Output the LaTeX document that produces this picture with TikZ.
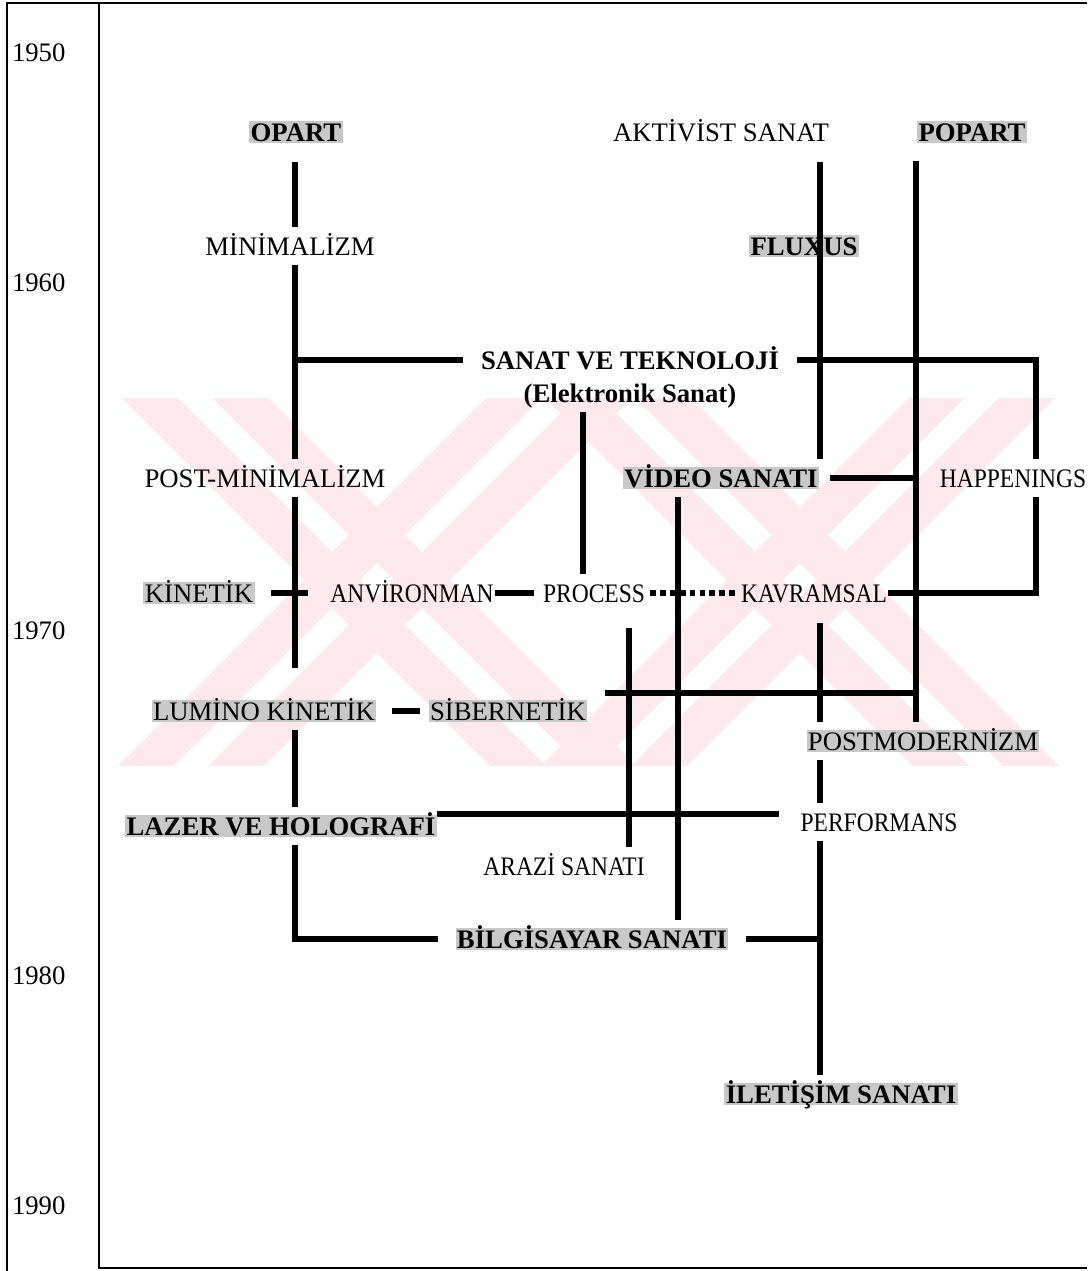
\documentclass[tikz,border=0pt]{standalone}
\usepackage{fontspec}
\setmainfont{Liberation Serif}
\newfontfamily\condfont[FakeStretch=0.88]{Liberation Serif}
\definecolor{cShade}{RGB}{200,200,200}
\definecolor{cMark}{RGB}{253,233,237}

\tikzset{
  lbl/.style={inner sep=1pt, outer xsep=0pt, outer ysep=6pt, text height=13pt, text depth=0pt, font=\fontsize{19}{22}\selectfont},
  lblb/.style={lbl, font=\fontsize{19}{22}\selectfont\bfseries},
  lblc/.style={lbl, font=\fontsize{19}{22}\condfont},
  shade/.style={fill=cShade},
  link/.style={line width=3.6pt},
  dotlink/.style={line width=4.5pt, dash pattern=on 4pt off 3pt},
  frame/.style={line width=1pt}
}

\begin{document}
\begin{tikzpicture}[x=0.025cm, y=-0.025cm]
\useasboundingbox (0,0) rectangle (1087,1271);

% watermark
\begin{scope}
  \clip (99,398) rectangle (1087,765);
  \foreach \cx in {377,800}
    \foreach \s in {-45,45} {
      \draw[cMark, line width=28pt] (\cx+\s-250,330) -- (\cx+\s+250,830);
      \draw[cMark, line width=28pt] (\cx+\s+250,330) -- (\cx+\s-250,830);
    }
\end{scope}

% frame
\draw[frame] (7,1271) -- (7,3) -- (1087,3);
\draw[frame] (99,3) -- (99,1268) -- (1087,1268);

% years
\foreach \yr/\yy in {1950/52,1960/282,1970/630,1980/975,1990/1205}
  \node[lbl, anchor=west, inner sep=0pt] (y\yr) at (12,\yy) {\yr};

% labels
\node[lblb, shade] (opart) at (296,132) {OPART};
\node[lbl] (aktivist) at (721,132) {AKTİVİST SANAT};
\node[lblb, shade] (popart) at (972,132) {POPART};
\node[lbl] (minimal) at (290,246) {MİNİMALİZM};
\node[lblb, shade] (fluxus) at (804,246) {FLUXUS};
\node[lblb] (sanat) at (630,360) {SANAT VE TEKNOLOJİ};
\node[lblb] (elek) at (630,393) {(Elektronik Sanat)};
\node[lbl] (postmin) at (265,478) {POST-MİNİMALİZM};
\node[lblb, shade] (video) at (721,478) {VİDEO SANATI};
\node[lblc] (happen) at (1013,478) {HAPPENINGS};
\node[lbl, shade] (kinetik) at (199,593) {KİNETİK};
\node[lblc] (anviron) at (412,593) {ANVİRONMAN};
\node[lblc] (process) at (594,593) {PROCESS};
\node[lblc] (kavram) at (814,593) {KAVRAMSAL};
\node[lbl, shade] (lumino) at (264,711) {LUMİNO KİNETİK};
\node[lbl, shade] (siber) at (508,711) {SİBERNETİK};
\node[lbl, shade] (postmod) at (923,741) {POSTMODERNİZM};
\node[lblb, shade] (lazer) at (281,826) {LAZER VE HOLOGRAFİ};
\node[lblc] (perform) at (879,822) {PERFORMANS};
\node[lblc] (arazi) at (564,866) {ARAZİ SANATI};
\node[lblb, shade] (bilgi) at (592,939) {BİLGİSAYAR SANATI};
\node[lblb, shade] (iletis) at (841,1094) {İLETİŞİM SANATI};

% columns
\coordinate (cA) at (295,0);
\coordinate (cS) at (583,0);
\coordinate (cP) at (629,0);
\coordinate (cV) at (678,0);
\coordinate (cF) at (820,0);
\coordinate (cPop) at (916,0);
\coordinate (cH) at (1036,0);
\coordinate (sibR) at (605,693);

% left trunk
\draw[link, shorten <=0.28cm] (cA |- opart.south) -- (cA |- minimal.north);
\draw[link] (cA |- minimal.south) -- (cA |- postmin.north);
\draw[link] (cA |- postmin.south) -- ([yshift=0.6cm]cA |- lumino.north);
\draw[link] (cA |- lumino.south) -- (cA |- lazer.north);
\draw[link, shorten >=0.45cm] (cA |- lazer.south) -- (cA |- bilgi.west) -- (bilgi.west);

% sanat ve teknoloji
\draw[link, shorten >=0.42cm] (cA |- sanat.west) -- (sanat.west);
\draw[link, shorten <=0.42cm] (sanat.east) -- (cH |- sanat.east) -- (cH |- happen.north);
\draw[link] (elek.south -| cS) -- (cS |- process.north);

% right trunks
\draw[link, shorten <=0.28cm] (cF |- aktivist.south) -- (cF |- video.north);
\draw[link, shorten <=0.28cm] (video.east) -- (cPop |- video.east);
\draw[link, shorten <=0.25cm] (cPop |- popart.south) -- (cPop |- postmod.north);
\draw[link] (sibR) -- (cPop |- sibR);
\draw[link] (cV |- video.south) -- (cV |- bilgi.north);
\draw[link, shorten <=0.28cm] (cF |- kavram.south) -- (cF |- postmod.north);
\draw[link] (cF |- postmod.south) -- (cF |- perform.north);
\draw[link] (cF |- perform.south) -- (cF |- iletis.north);
\draw[link] (kavram.east) -- (cH |- kavram.east) -- (cH |- happen.south);

% middle rows
\draw[link, shorten <=0.4cm, shorten >=0.52cm] (kinetik.east) -- (anviron.west);
\draw[link, shorten >=0.18cm] (anviron.east) -- (process.west);
\draw[dotlink, shorten <=0.1cm, shorten >=0.12cm] (process.east) -- (kavram.west);
\draw[link, shorten <=0.4cm] (cP |- process.south) -- (cP |- arazi.north);
\draw[link, shorten <=0.38cm, shorten >=0.22cm] (lumino.east) -- (siber.west);
\draw[link, shorten >=0.5cm] ([yshift=0.3cm]lazer.east) -- ([yshift=0.3cm]lazer.east -| perform.west);
\draw[link, shorten <=0.45cm] (bilgi.east) -- (cF |- bilgi.east);
\end{tikzpicture}
\end{document}
